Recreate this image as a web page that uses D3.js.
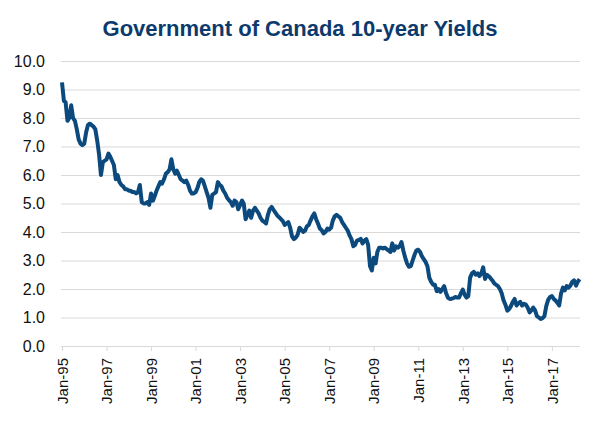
<!DOCTYPE html>
<html>
<head>
<meta charset="utf-8">
<script src="https://cdn.jsdelivr.net/npm/d3@7"></script>
<style>
  body { margin: 0; background: #fff; }
  text { font-family: "Liberation Sans", Arial, sans-serif; }
</style>
</head>
<body>
<div id="chart"></div>
<script>
// Government of Canada 10-year yields, monthly from Jan-1995
const startYear = 1995;
const yields = [
  9.25, 8.6, 8.55, 7.9, 8.0, 8.45, 8.0, 7.9, 7.6, 7.25, 7.1, 7.05,      // 1995
  7.1, 7.5, 7.75, 7.8, 7.75, 7.7, 7.6, 7.2, 6.7, 6.0, 6.45, 6.5,        // 1996
  6.55, 6.75, 6.65, 6.5, 6.35, 5.85, 6.0, 5.75, 5.65, 5.6, 5.5, 5.5,    // 1997
  5.45, 5.45, 5.4, 5.4, 5.35, 5.4, 5.65, 5.05, 5.0, 5.0, 5.05, 4.95,    // 1998
  5.35, 5.1, 5.25, 5.45, 5.6, 5.75, 5.7, 5.85, 6.05, 6.1, 6.2, 6.55,    // 1999
  6.2, 6.05, 6.15, 6.0, 5.85, 5.8, 5.75, 5.8, 5.65, 5.45, 5.35, 5.35,   // 2000
  5.4, 5.55, 5.75, 5.85, 5.8, 5.6, 5.4, 5.2, 4.85, 5.3, 5.35, 5.4,      // 2001
  5.75, 5.65, 5.6, 5.45, 5.35, 5.2, 5.12, 5.05, 4.92, 5.1, 5.05, 4.8,   // 2002
  4.95, 5.1, 5.0, 4.45, 4.6, 4.75, 4.5, 4.75, 4.85, 4.75, 4.65, 4.5,    // 2003
  4.4, 4.35, 4.3, 4.6, 4.8, 4.88, 4.78, 4.68, 4.58, 4.52, 4.45, 4.38,   // 2004
  4.25, 4.3, 4.35, 4.15, 3.85, 3.75, 3.8, 3.9, 4.15, 4.08, 4.0, 4.05,   // 2005
  4.2, 4.25, 4.4, 4.55, 4.65, 4.45, 4.3, 4.12, 4.06, 3.95, 4.0, 4.12,   // 2006
  4.08, 4.15, 4.4, 4.55, 4.6, 4.55, 4.5, 4.35, 4.25, 4.15, 4.05, 3.88,  // 2007
  3.75, 3.5, 3.55, 3.7, 3.72, 3.76, 3.6, 3.7, 3.75, 3.55, 2.8, 2.65,    // 2008
  3.1, 2.9, 3.3, 3.45, 3.45, 3.42, 3.45, 3.4, 3.35, 3.3, 3.6, 3.35,     // 2009
  3.5, 3.45, 3.5, 3.65, 3.35, 3.1, 2.9, 2.78, 2.8, 3.0, 3.2, 3.35,      // 2010
  3.38, 3.3, 3.15, 3.05, 2.95, 2.8, 2.4, 2.25, 2.15, 2.15, 1.92, 2.0,   // 2011
  1.9, 2.0, 2.1, 1.86, 1.7, 1.65, 1.66, 1.68, 1.72, 1.7, 1.7, 1.85,     // 2012
  1.98, 1.8, 1.7, 1.75, 2.4, 2.55, 2.6, 2.5, 2.55, 2.45, 2.55, 2.76,    // 2013
  2.35, 2.5, 2.45, 2.38, 2.3, 2.2, 2.15, 2.1, 2.0, 1.85, 1.6, 1.45,     // 2014
  1.24, 1.3, 1.4, 1.55, 1.65, 1.42, 1.5, 1.55, 1.42, 1.48, 1.45, 1.35,  // 2015
  1.18, 1.25, 1.35, 1.25, 1.05, 1.0, 0.95, 0.98, 1.05, 1.4, 1.62, 1.72, // 2016
  1.75, 1.65, 1.6, 1.52, 1.42, 1.85, 2.05, 1.95, 2.1, 2.05, 2.12, 2.25, // 2017
  2.3, 2.12, 2.25, 2.35                                                 // 2018
];
const yTicks = [0, 1, 2, 3, 4, 5, 6, 7, 8, 9, 10];
const xTickYears = [1995, 1997, 1999, 2001, 2003, 2005, 2007, 2009, 2011, 2013, 2015, 2017];
const titleText = "Government of Canada 10-year Yields";

const width = 600;
const height = 424;
const margin = { top: 61, right: 20, bottom: 78, left: 62 };

const data = yields.map((v, i) => ({ date: new Date(Date.UTC(startYear, i, 1)), value: v }));

const svg = d3.select("#chart")
  .append("svg")
  .attr("width", width)
  .attr("height", height);

const x = d3.scaleUtc()
  .domain([new Date(Date.UTC(startYear, 0, 1)), new Date(Date.UTC(2018, 3, 1))])
  .range([margin.left, 579.6]);

const y = d3.scaleLinear()
  .domain([0, 10])
  .range([346, margin.top]);

// Title
svg.append("text")
  .attr("x", 300)
  .attr("y", 36)
  .attr("text-anchor", "middle")
  .style("font-size", "22px")
  .style("font-weight", "bold")
  .style("fill", "#0d3a6c")
  .text(titleText);

// Gridlines + y labels
const yAxis = svg.append("g")
  .attr("transform", `translate(${margin.left - 1},0)`)
  .call(d3.axisLeft(y).tickValues(yTicks).tickFormat(d3.format(".1f"))
    .tickSize(-(580 - margin.left + 1)).tickPadding(16));
yAxis.select(".domain").remove();
yAxis.selectAll("line").style("stroke", "#d9d9d9");
yAxis.selectAll("text")
  .style("font-size", "16px")
  .style("fill", "#111")
  .style("font-family", "Liberation Sans, Arial, sans-serif");

// X axis
const xAxis = svg.append("g")
  .attr("transform", `translate(0,346)`)
  .call(d3.axisBottom(x)
    .tickValues(xTickYears.map(yr => new Date(Date.UTC(yr, 0, 1))))
    .tickFormat(d3.utcFormat("%b-%y"))
    .tickSize(5)
    .tickSizeOuter(0));
xAxis.select(".domain").style("stroke", "#d9d9d9").attr("d", `M${margin.left - 1},0.5H580`);
xAxis.selectAll("line").style("stroke", "#d9d9d9");
xAxis.selectAll("text")
  .style("font-size", "15px")
  .style("fill", "#111")
  .style("font-family", "Liberation Sans, Arial, sans-serif")
  .attr("text-anchor", "end")
  .attr("transform", "rotate(-90)")
  .attr("x", -12)
  .attr("y", 0)
  .attr("dy", "0.35em");

// Line
const line = d3.line()
  .x(d => x(d.date))
  .y(d => y(d.value));

svg.append("path")
  .datum(data)
  .attr("fill", "none")
  .attr("stroke", "#0c4a7d")
  .attr("stroke-width", 4)
  .attr("stroke-linejoin", "round")
  .attr("d", line);
</script>
</body>
</html>
